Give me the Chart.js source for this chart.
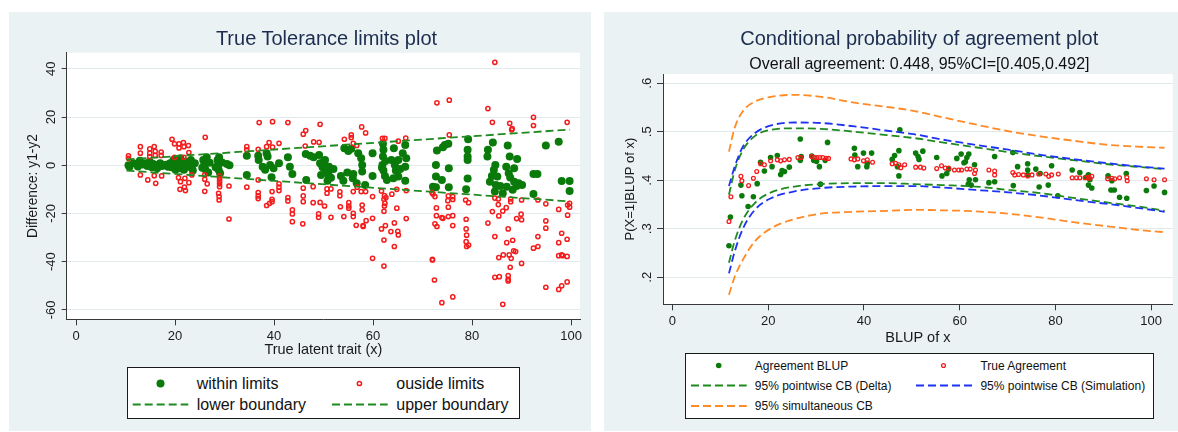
<!DOCTYPE html>
<html>
<head>
<meta charset="utf-8">
<script src="https://cdn.jsdelivr.net/npm/chart.js@4.4.1/dist/chart.umd.min.js"></script>
<style>
html,body{margin:0;padding:0;background:#fff;}
body{width:1178px;height:432px;position:relative;overflow:hidden;font-family:"Liberation Sans",Arial,sans-serif;}
.panel{position:absolute;background:#eaf2f3;}
.panel canvas{position:absolute;left:0;top:0;}
.ttl{position:absolute;white-space:nowrap;text-align:center;}
.legend{position:absolute;background:#fff;border:1px solid #1a1a1a;box-sizing:border-box;}
.legend svg{position:absolute;left:0;top:0;overflow:visible;}
.legend .lt{position:absolute;white-space:nowrap;color:#111;}
</style>
</head>
<body>
<div class="panel" style="left:9px;top:12px;width:582px;height:419px"><canvas id="c1" width="582" height="419"></canvas></div>
<div class="panel" style="left:604px;top:12px;width:574px;height:419px"><canvas id="c2" width="574" height="419"></canvas></div>
<div class="ttl" style="left:176.5px;width:300px;top:28px;font-size:20px;line-height:20px;color:#1c2d50">True Tolerance limits plot</div>
<div class="ttl" style="left:619.3px;width:600px;top:28px;font-size:20px;line-height:20px;color:#1c2d50">Conditional probability of agreement plot</div>
<div class="ttl" style="left:619.4px;width:600px;top:55.5px;font-size:16px;line-height:16px;color:#111">Overall agreement: 0.448, 95%CI=[0.405,0.492]</div>
<script>
// ---------------- LEFT PANEL DATA ----------------
const xTicksL = [0, 20, 40, 60, 80, 100];
const xTickLabelsL = ['0', '20', '40', '60', '80', '100'];
const yTicksL = [-60, -40, -20, 0, 20, 40];
const yTickLabelsL = ['-60', '-40', '-20', '0', '20', '40'];

const withinLimits = [
  [10.6,0],[10.8,-0.6],[11.6,0.8],[12.9,1.9],[14.0,0.8],[14.4,-0.3],[14.9,1.5],[15.3,-0.8],[16.0,0.1],[16.4,-1.2],
  [17.0,0.8],[17.4,-0.3],[19.0,0.8],[19.3,-0.8],[19.7,2.2],[20.1,-1.9],[20.5,0.1],[20.7,1.5],[21.0,-1.2],[21.1,2.9],
  [21.5,0.1],[21.8,-1.9],[22.2,1.5],[22.7,-0.6],[23.2,2.2],[23.4,-0.3],[23.6,-2.2],[25.7,2.2],[25.9,0.1],[26.1,-1.7],
  [26.4,3.3],[26.7,-3.0],[28.6,2.2],[28.7,0.1],[28.8,-1.9],[29.1,-3.3],[28.9,3.3],[31.0,0],[34.5,3.9],[34.5,-4.0],
  [12.5,-0.5],[13.5,0.3],[15.5,0.6],[18.2,0.2],[18.6,-0.6],[19.8,-0.2],[20.3,1.0],[22.0,-0.9],[24.0,0.8],[25.5,-1.0],
  [27.0,1.0],[28.2,-0.8],[29.5,1.2],[30.5,0.5],
  [36.8,3.9],[36.9,2.2],[38.5,5.0],[38.7,3.6],[37.7,-0.6],[38.2,-1.9],[39.2,0.1],[39.5,-5.0],[39.9,-1.2],[41.0,0.8],
  [42.8,3.3],[43.2,-0.6],[43.7,-3.6],[46.5,-6.1],[46.4,4.7],[47.3,3.9],[48.0,3.3],[49.1,4.3],[49.3,0.8],[49.8,-0.8],
  [50.3,2.2],[50.5,-2.2],[49.5,-4.0],[51.0,-4.0],[50.8,-6.4],[51.1,-0.6],[53.5,-4.4],[54.0,-6.4],[54.8,-3.0],[55.9,-5.4],
  [56.0,-3.6],[54.2,7.1],[55.0,5.9],[55.6,6.9],[57.0,5.0],[57.6,2.9],[57.8,0.1],[56.7,-7.5],[58.4,-8.2],[57.8,-2.6],
  [59.9,5.0],[59.9,-4.4],[62.0,8.9],[62.1,6.4],[62.0,3.6],[61.9,0.1],[62.1,-2.2],[62.4,-4.4],[62.8,-6.1],[63.7,2.2],
  [64.2,7.1],[64.4,0.1],[64.6,-2.2],[65.1,2.2],[66.5,8.4],[66.7,2.9],[66.5,-0.6],[66.5,-6.4],[65.1,-4.7],[64.1,-5.4],
  [50.0,1.5],[50.9,-2.9],[51.5,-5.2],[52.0,-1.5],[61.8,-1.0],[62.5,1.8],[65.5,-1.5],[66.0,5.0],
  [72.9,6.1],[74.1,7.5],[74.5,8.4],[75.2,8.9],[72.7,0.1],[72.7,-4.7],[73.9,-6.1],[72.1,-8.9],[72.7,-9.1],[75.3,-1.2],
  [75.3,-9.1],[79.2,10.8],[79.1,6.4],[79.1,3.6],[79.1,2.2],[79.1,-5.5],[78.8,-10.0],[83.2,6.4],[83.1,3.6],[84.2,9.4],
  [84.7,0.1],[84.4,-1.9],[84.0,-4.4],[83.6,-6.8],[84.8,-8.2],[85.1,-4.7],[85.7,-8.6],[86.2,-11.6],[84.6,-10.9],[87.2,8.2],
  [87.6,3.6],[89.1,2.6],[86.9,-0.6],[87.4,-3.3],[88.5,-1.2],[87.7,-5.1],[88.5,-6.8],[87.0,-8.9],[89.4,-7.5],[90.1,-8.2],
  [88.2,-10.2],[89.0,-8.6],[92.4,-3.6],[93.2,-3.6],[92.4,-11.9],[94.9,8.2],[97.5,9.8],[98.1,-6.5],[99.7,-6.5],[99.7,-10.7]
];

const outsideLimits = [
  [10.6,3.9],[10.6,2.9],[13.0,7.7],[13.0,5.0],[13.0,-4.0],[14.5,-6.1],[14.9,6.8],[14.9,5.0],[14.9,3.6],[15.8,7.7],
  [16.0,5.8],[16.0,4.1],[17.2,5.5],[17.2,4.1],[15.8,-4.3],[16.1,-7.5],[17.3,-4.4],[19.4,10.8],[19.9,8.9],[20.8,8.9],
  [20.8,7.2],[21.7,9.4],[21.8,7.7],[22.7,8.2],[22.8,5.3],[19.9,3.3],[21.8,3.3],[20.7,-5.1],[21.1,-6.8],[22.0,-5.4],
  [22.8,-7.2],[21.9,-9.1],[21.0,-10.0],[22.1,-10.5],[23.4,-4.0],[26.1,11.6],[26.0,-4.0],[26.0,-5.8],[26.5,-7.7],[26.0,-10.8],
  [29.0,-4.4],[29.0,-5.5],[29.0,-6.6],[29.0,-7.7],[29.0,-8.9],[28.8,-11.6],[28.9,-13.0],[28.9,-14.4],[30.9,-8.6],[30.9,-22.3],
  [34.5,7.7],[34.5,6.4],[34.5,-9.1],
  [37.0,17.7],[39.7,18.1],[42.8,17.7],[49.3,17.0],[45.9,12.9],[46.4,14.4],[57.7,15.9],[58.5,13.4],[55.6,12.6],[55.6,11.5],
  [36.8,6.6],[38.5,7.7],[39.0,9.4],[39.7,7.5],[41.0,9.1],[46.3,8.0],[48.0,9.7],[49.1,9.5],[54.2,10.8],[56.0,9.1],
  [56.7,8.2],[61.9,11.2],[62.4,11.2],[65.1,10.0],[66.6,11.3],[36.8,-6.1],[36.8,-11.3],[36.8,-12.7],[36.8,-13.8],[38.5,-16.7],
  [39.1,-15.8],[39.6,-15.1],[39.6,-14.1],[39.6,-10.9],[41.0,-7.7],[41.0,-9.1],[41.0,-10.5],[42.8,-13.4],[42.8,-14.8],[43.7,-18.5],
  [43.7,-20.2],[43.7,-23.4],[45.8,-24.3],[45.9,-9.5],[45.9,-12.7],[45.9,-15.1],[47.9,-8.9],[47.9,-15.5],[49.3,-15.4],[50.2,-16.9],
  [49.0,-20.2],[49.0,-21.6],[50.7,-9.8],[50.7,-11.6],[51.5,-9.8],[51.5,-21.6],[53.3,-11.0],[53.3,-12.6],[53.4,-17.2],[54.1,-21.3],
  [55.1,-15.5],[55.1,-16.9],[55.1,-17.8],[56.0,-19.9],[56.0,-21.3],[56.0,-10.9],[56.8,-9.1],[57.8,-16.5],[57.8,-18.5],[56.6,-24.9],
  [58.0,-25.0],[58.0,-25.4],[58.6,-23.0],[57.6,-10.9],[58.5,-10.9],[59.9,-13.0],[59.9,-22.0],[59.9,-38.6],[61.7,-10.7],[62.3,-12.6],
  [62.6,-13.4],[62.2,-14.1],[62.4,-15.8],[62.3,-16.9],[62.2,-19.1],[61.7,-26.4],[62.5,-25.0],[62.2,-31.0],[62.2,-41.8],[63.8,-12.0],
  [64.8,-10.0],[64.8,-17.8],[64.3,-23.9],[63.6,-27.5],[65.0,-27.4],[65.1,-28.9],[64.3,-33.7],[66.7,-10.5],[66.7,-22.1],
  [84.6,42.7],[72.9,25.9],[75.4,27.0],[83.2,23.5],[84.1,17.8],[87.6,17.4],[88.1,15.2],[88.0,14.7],[92.4,19.9],[92.4,16.5],
  [99.2,17.8],[75.4,12.6],[72.1,-11.9],[72.5,-13.0],[72.8,-17.7],[72.8,-20.9],[72.9,-25.4],[72.5,-24.3],[73.9,-21.7],[74.1,-22.0],
  [75.2,-12.7],[76.1,-13.0],[75.1,-14.7],[75.2,-17.4],[75.2,-21.3],[76.1,-20.9],[76.1,-25.0],[72.0,-39.0],[72.0,-39.3],[72.4,-47.6],
  [73.9,-57.0],[76.1,-54.6],[78.7,-14.4],[79.3,-15.5],[78.8,-22.4],[78.8,-26.4],[78.9,-29.0],[78.8,-31.7],[79.3,-33.1],[78.9,-33.7],
  [83.2,-24.0],[84.1,-19.2],[84.6,-13.6],[84.6,-29.6],[85.3,-14.0],[85.3,-16.3],[86.2,-19.0],[86.9,-17.6],[85.4,-21.0],[87.8,-15.1],
  [87.8,-14.0],[89.0,-22.1],[89.9,-20.3],[90.0,-22.6],[90.0,-14.4],[87.3,-26.4],[87.0,-32.1],[88.2,-31.1],[86.3,-37.2],[85.4,-38.3],
  [87.5,-37.2],[87.9,-38.6],[88.4,-35.5],[88.8,-35.8],[87.7,-42.3],[90.0,-40.7],[84.6,-46.5],[85.5,-46.2],[87.3,-45.8],[87.3,-47.3],
  [87.3,-48.0],[86.2,-57.7],[93.3,-14.4],[94.9,-16.0],[94.9,-23.1],[94.9,-26.1],[93.3,-29.6],[93.3,-33.7],[92.4,-34.4],[94.9,-50.6],
  [97.5,-18.3],[99.3,-16.5],[99.7,-15.8],[99.7,-17.4],[99.3,-20.7],[98.1,-28.2],[97.5,-32.1],[99.2,-30.7],[97.5,-37.5],[98.1,-37.2],
  [98.3,-37.5],[99.2,-37.8],[97.5,-51.5],[98.1,-50.0],[99.2,-48.4],[71.9,-11.3],[76.1,-14.2]
];

const boundaryX = [10.2, 99.8];
const lowerBoundary = [-2.2, -15.0];
const upperBoundary = [2.4, 14.8];

// ---------------- RIGHT PANEL DATA ----------------
const xTicksR = [0, 20, 40, 60, 80, 100];
const xTickLabelsR = ['0', '20', '40', '60', '80', '100'];
const yTicksR = [0.2, 0.3, 0.4, 0.5, 0.6];
const yTickLabelsR = ['.2', '.3', '.4', '.5', '.6'];

const agreementBLUP = [
  [11.8,0.265],[12.1,0.324],[14.3,0.390],[14.5,0.368],[15.8,0.346],[16.9,0.366],[17.7,0.393],[18.4,0.437],[19.2,0.419],[20.5,0.447],
  [20.8,0.428],[21.9,0.451],[22.6,0.412],[22.9,0.420],[23.4,0.418],[24.4,0.427],[26.7,0.485],[26.7,0.441],[26.9,0.449],[29.1,0.450],
  [29.5,0.441],[30.1,0.439],[30.7,0.428],[30.9,0.392],[31.9,0.441],[32.4,0.478],[38.0,0.466],[38.1,0.452],[38.7,0.428],[39.9,0.456],
  [40.6,0.428],[41.6,0.456],[40.7,0.435],[45.9,0.443],[46.4,0.451],[47.3,0.461],[47.5,0.504],[47.3,0.409],[47.0,0.428],
  [50.8,0.456],[51.3,0.449],[52.3,0.460],[51.5,0.443],[55.2,0.447],[56.3,0.409],[57.3,0.414],[57.7,0.423],[59.4,0.445],[60.3,0.454],
  [60.9,0.436],[61.5,0.447],[61.9,0.454],[61.2,0.438],[62.0,0.401],[62.4,0.390],[61.8,0.392],[63.3,0.401],[63.1,0.432],[66.1,0.395],
  [67.3,0.449],[67.3,0.397],[71.1,0.457],[72.1,0.428],[71.2,0.389],[74.2,0.434],[74.2,0.421],[75.9,0.423],[76.8,0.414],[74.2,0.411],
  [76.6,0.386],[79.2,0.430],[78.5,0.390],[80.5,0.368],[83.5,0.421],[85.1,0.416],[86.9,0.411],[87.2,0.401],[86.9,0.390],[87.6,0.384],
  [86.4,0.406],[91.0,0.409],[91.8,0.399],[92.3,0.380],[91.6,0.380],[93.4,0.365],[94.9,0.363],[94.8,0.414],[99.0,0.379],[100.6,0.388],
  [102.8,0.375]
];

const trueAgreement = [
  [11.8,0.315],[12.2,0.366],[14.3,0.408],[14.5,0.399],[15.9,0.389],[16.9,0.404],[17.6,0.418],[18.4,0.434],[19.2,0.432],[20.5,0.440],
  [21.9,0.442],[22.6,0.440],[23.4,0.442],[24.4,0.443],[26.2,0.447],[26.9,0.447],[29.1,0.449],[29.7,0.447],[30.2,0.447],[30.8,0.447],
  [31.4,0.447],[32.1,0.445],[32.6,0.445],[37.3,0.444],[38.0,0.442],[38.7,0.444],[39.9,0.440],[40.7,0.442],[41.8,0.437],[45.9,0.434],
  [46.6,0.435],[47.3,0.432],[47.7,0.426],[48.5,0.432],
  [50.8,0.427],[51.8,0.427],[52.5,0.425],[55.2,0.424],[56.2,0.430],[57.0,0.425],[57.7,0.425],[58.9,0.421],[59.8,0.421],[60.4,0.421],
  [61.5,0.423],[62.2,0.423],[63.3,0.421],[63.1,0.414],[66.1,0.421],[67.3,0.419],[67.3,0.411],[71.1,0.416],[71.5,0.411],[72.3,0.412],
  [73.3,0.411],[74.2,0.409],[75.1,0.411],[76.5,0.413],[78.0,0.413],[78.6,0.408],[79.2,0.411],[80.6,0.413],[83.5,0.405],[84.4,0.405],
  [85.1,0.405],[86.2,0.405],[86.9,0.406],[87.6,0.408],[87.2,0.404],[90.9,0.403],[91.8,0.404],[92.4,0.403],[93.4,0.405],[94.9,0.406],
  [95.0,0.399],[99.0,0.403],[100.6,0.401],[102.8,0.401]
];

const curveX     = [11.8, 13.0, 14.7, 17.2, 20.6, 25.5, 31.0, 38.0, 44.9, 50.4, 56.3, 63.3, 70.2, 77.2, 84.1, 91.0, 97.9, 102.8];
const deltaUpper = [0.370,0.420,0.462,0.491,0.504,0.507,0.506,0.500,0.493,0.487,0.478,0.468,0.458,0.449,0.441,0.433,0.427,0.423];
const deltaLower = [0.230,0.275,0.318,0.353,0.375,0.387,0.392,0.394,0.394,0.392,0.390,0.387,0.380,0.373,0.363,0.354,0.345,0.337];
const simUpper   = [0.388,0.428,0.469,0.497,0.513,0.519,0.518,0.511,0.502,0.495,0.484,0.473,0.463,0.452,0.443,0.435,0.428,0.424];
const simLower   = [0.208,0.253,0.300,0.339,0.363,0.377,0.384,0.387,0.388,0.388,0.385,0.380,0.375,0.368,0.359,0.351,0.342,0.335];
const simulUpper = [0.459,0.508,0.542,0.562,0.572,0.576,0.572,0.560,0.551,0.543,0.530,0.515,0.501,0.490,0.481,0.473,0.469,0.467];
const simulLower = [0.164,0.201,0.236,0.274,0.301,0.320,0.331,0.335,0.337,0.339,0.338,0.336,0.331,0.323,0.313,0.305,0.297,0.293];

// ---------------- STYLE ----------------
const AXIS = '#383838', TXT = '#1a1a1a', GRID = '#e1ebee';
const GREEN_PT = '#0a7a0a', RED = '#f41c1c', GREEN_LN = '#1f8a1f', BLUE = '#1f33f5', ORANGE = '#ff8a26';

Chart.defaults.font.family = "'Liberation Sans', Arial, sans-serif";
Chart.defaults.color = TXT;

const pts = arr => arr.map(([x, y]) => ({ x, y }));
const zip = (xs, ys) => xs.map((x, i) => ({ x, y: ys[i] }));

const plotBg = {
  id: 'plotBg',
  beforeDraw(chart) {
    const { ctx, chartArea: a } = chart;
    ctx.save();
    ctx.fillStyle = '#ffffff';
    ctx.fillRect(a.left, a.top, a.right - a.left, a.bottom - a.top);
    ctx.restore();
  }
};

function xAxis(min, max, ticks, labels, title, titlePadBottom) {
  return {
    type: 'linear', min, max,
    afterBuildTicks: s => { s.ticks = ticks.map(v => ({ value: v })); },
    afterFit: s => { s.height = 45; s.paddingLeft = 0; s.paddingRight = 0; },
    grid: { drawOnChartArea: false, drawTicks: true, tickLength: 6, tickColor: AXIS, tickWidth: 1 },
    border: { display: true, color: AXIS, width: 1 },
    ticks: { autoSkip: false, minRotation: 0, maxRotation: 0, padding: 3, font: { size: 13 }, color: TXT,
             callback: (v, i) => labels[i] },
    title: { display: true, text: title, color: TXT, font: { size: 14.5 }, padding: { top: 0, bottom: titlePadBottom } }
  };
}
function yAxis(min, max, ticks, labels, title, width, tickLen, tickPad, titleSize, titlePadTop) {
  return {
    type: 'linear', min, max,
    afterBuildTicks: s => { s.ticks = ticks.map(v => ({ value: v })); },
    afterFit: s => { s.width = width; s.paddingTop = 0; s.paddingBottom = 0; },
    grid: { color: GRID, lineWidth: 1, drawTicks: true, tickLength: tickLen, tickColor: AXIS, tickWidth: 1 },
    border: { display: true, color: AXIS, width: 1 },
    ticks: { autoSkip: false, minRotation: 90, maxRotation: 90, crossAlign: 'center', padding: tickPad,
             font: { size: 13 }, color: TXT, callback: (v, i) => labels[i] },
    title: { display: true, text: title, color: TXT, font: { size: titleSize }, padding: { top: titlePadTop, bottom: 0 } }
  };
}
const common = { responsive: false, animation: false, events: [],
  plugins: { legend: { display: false }, tooltip: { enabled: false }, title: { display: false } } };

// ---------------- LEFT CHART ----------------
const chartL = new Chart(document.getElementById('c1'), {
  type: 'scatter',
  data: { datasets: [
    { label: 'within limits', data: pts(withinLimits), pointRadius: 4, backgroundColor: GREEN_PT, borderColor: GREEN_PT, borderWidth: 0, order: 4 },
    { label: 'ouside limits', data: pts(outsideLimits), pointRadius: 2.1, backgroundColor: 'rgba(255,255,255,0)', borderColor: RED, borderWidth: 1.5, order: 3 },
    { label: 'lower boundary', data: zip(boundaryX, lowerBoundary), showLine: true, pointRadius: 0, borderColor: GREEN_LN, backgroundColor: GREEN_LN, borderWidth: 1.8, borderDash: [8, 4], order: 2 },
    { label: 'upper boundary', data: zip(boundaryX, upperBoundary), showLine: true, pointRadius: 0, borderColor: GREEN_LN, backgroundColor: GREEN_LN, borderWidth: 1.8, borderDash: [8, 4], order: 1 }
  ]},
  options: Object.assign({}, common, {
    layout: { padding: { left: 0, right: 11, top: 40.7, bottom: 66.7 } },
    scales: {
      x: xAxis(-1.88, 101.8, xTicksL, xTickLabelsL, 'True latent trait (x)', 6.1),
      y: yAxis(-63.9, 46.7, yTicksL, yTickLabelsL, 'Difference: y1-y2', 57.7, 5, 0.8, 13.8, 15.7)
    }
  }),
  plugins: [plotBg]
});

// ---------------- RIGHT CHART ----------------
const dashed = (label, ys, color, order) => ({ label, data: zip(curveX, ys), showLine: true, pointRadius: 0,
  borderColor: color, backgroundColor: color, borderWidth: 1.8, borderDash: [8, 4], cubicInterpolationMode: 'monotone', order });
const chartR = new Chart(document.getElementById('c2'), {
  type: 'scatter',
  data: { datasets: [
    { label: 'Agreement BLUP', data: pts(agreementBLUP), pointRadius: 2.8, backgroundColor: GREEN_PT, borderColor: GREEN_PT, borderWidth: 0, order: 9 },
    { label: 'True Agreement', data: pts(trueAgreement), pointRadius: 1.9, backgroundColor: 'rgba(255,255,255,0)', borderColor: RED, borderWidth: 1.3, order: 8 },
    dashed('95% pointwise CB (Delta)', deltaUpper, GREEN_LN, 7),
    dashed('95% pointwise CB (Delta) lower', deltaLower, GREEN_LN, 6),
    dashed('95% pointwise CB (Simulation)', simUpper, BLUE, 5),
    dashed('95% pointwise CB (Simulation) lower', simLower, BLUE, 4),
    dashed('95% simultaneous CB', simulUpper, ORANGE, 3),
    dashed('95% simultaneous CB lower', simulLower, ORANGE, 2)
  ]},
  options: Object.assign({}, common, {
    layout: { padding: { left: 0, right: 3, top: 62, bottom: 81.7 } },
    scales: {
      x: xAxis(-1.98, 104.5, xTicksR, xTickLabelsR, 'BLUP of x', 2.9),
      y: yAxis(0.1443, 0.619, yTicksR, yTickLabelsR, 'P(X=1|BLUP of x)', 59, 6, 4.1, 13, 18.7)
    }
  }),
  plugins: [plotBg]
});

// ---------------- LEGENDS (built from dataset styles) ----------------
function buildLegend(chart, box, fontSize, items) {
  const NS = 'http://www.w3.org/2000/svg';
  const el = document.createElement('div');
  el.className = 'legend';
  Object.assign(el.style, { left: box.x + 'px', top: box.y + 'px', width: box.w + 'px', height: box.h + 'px' });
  const svg = document.createElementNS(NS, 'svg');
  svg.setAttribute('width', box.w); svg.setAttribute('height', box.h);
  el.appendChild(svg);
  items.forEach(it => {
    const ds = chart.data.datasets[it.ds];
    const cy = it.y - box.y - 1;
    if (ds.showLine) {
      const ln = document.createElementNS(NS, 'line');
      ln.setAttribute('x1', it.x0 - box.x - 1); ln.setAttribute('x2', it.x1 - box.x - 1);
      ln.setAttribute('y1', cy); ln.setAttribute('y2', cy);
      ln.setAttribute('stroke', ds.borderColor); ln.setAttribute('stroke-width', ds.borderWidth);
      ln.setAttribute('stroke-dasharray', ds.borderDash.join(' '));
      svg.appendChild(ln);
    } else {
      const c = document.createElementNS(NS, 'circle');
      c.setAttribute('cx', it.mx - box.x - 1); c.setAttribute('cy', cy); c.setAttribute('r', ds.pointRadius);
      c.setAttribute('fill', ds.backgroundColor);
      if (ds.borderWidth > 0) { c.setAttribute('stroke', ds.borderColor); c.setAttribute('stroke-width', ds.borderWidth); }
      svg.appendChild(c);
    }
    const t = document.createElement('div');
    t.className = 'lt';
    t.textContent = ds.label;
    Object.assign(t.style, { left: (it.tx - box.x - 1) + 'px', top: (cy - fontSize / 2) + 'px',
      fontSize: fontSize + 'px', lineHeight: fontSize + 'px' });
    el.appendChild(t);
  });
  document.body.appendChild(el);
}

buildLegend(chartL, { x: 127, y: 367, w: 393, h: 52 }, 16, [
  { ds: 0, mx: 160.5, tx: 196.7, y: 383.5 },
  { ds: 1, mx: 359.4, tx: 396.3, y: 383.5 },
  { ds: 2, x0: 132.7, x1: 188.3, tx: 196.7, y: 404.5 },
  { ds: 3, x0: 332, x1: 387.7, tx: 396.3, y: 404.5 }
]);
buildLegend(chartR, { x: 685, y: 353, w: 469, h: 66 }, 12, [
  { ds: 0, mx: 718.7, tx: 754.8, y: 365.5 },
  { ds: 1, mx: 943.5, tx: 980.4, y: 365.5 },
  { ds: 2, x0: 691, x1: 746.7, tx: 754.8, y: 385.5 },
  { ds: 4, x0: 916, x1: 972, tx: 980.4, y: 385.5 },
  { ds: 6, x0: 691, x1: 746.7, tx: 754.8, y: 406 }
]);
</script>
</body>
</html>
